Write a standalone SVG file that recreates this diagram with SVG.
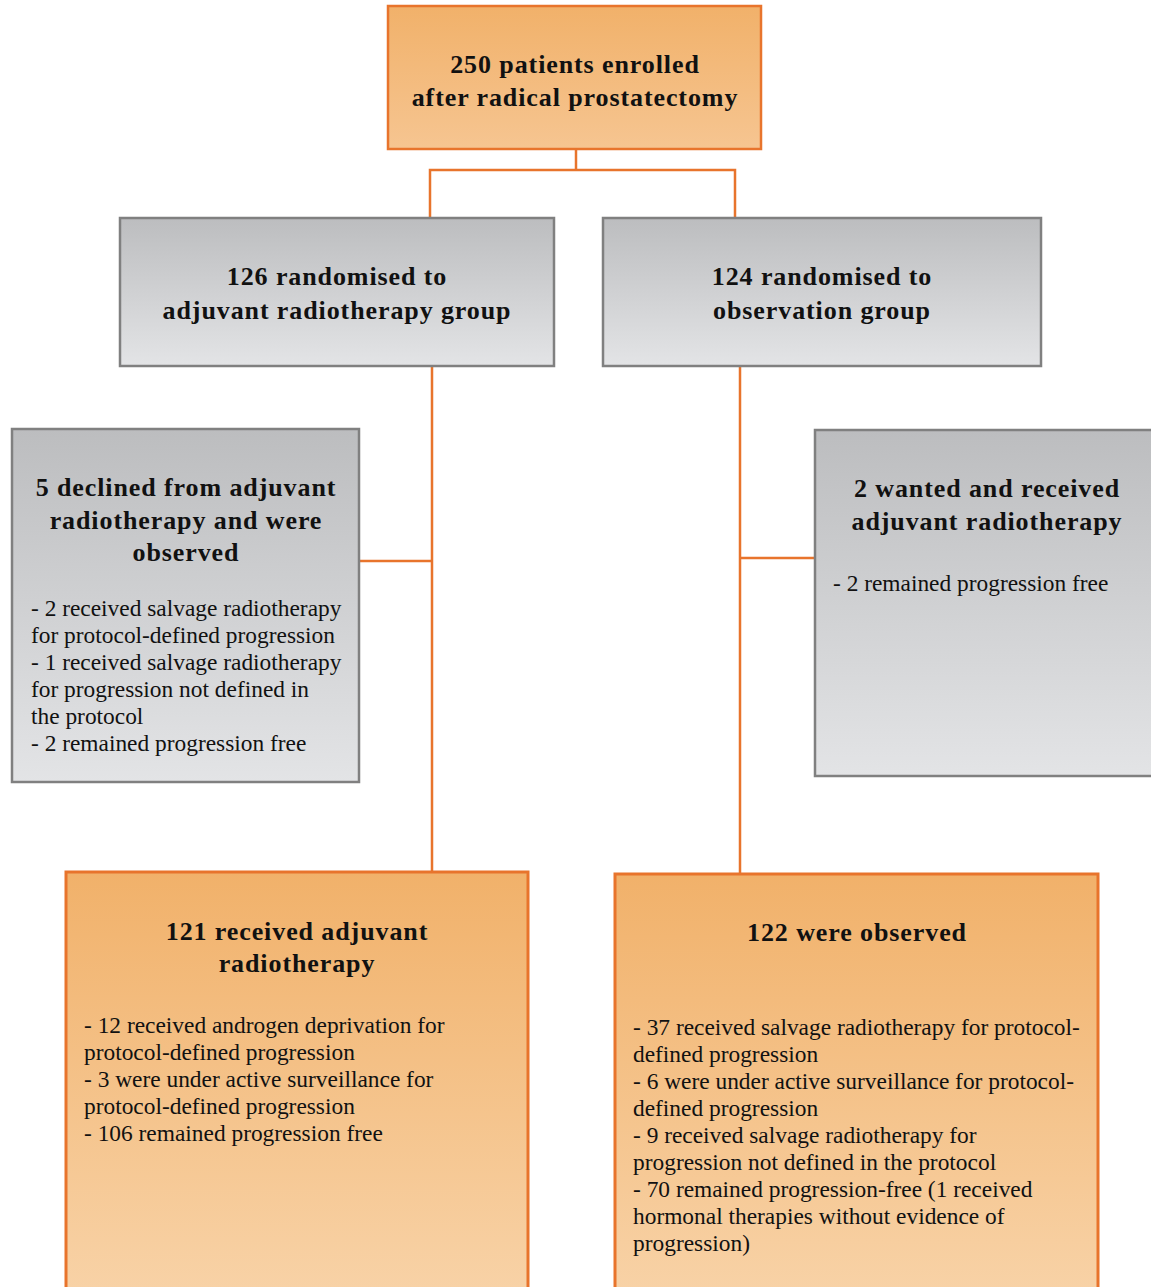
<svg xmlns="http://www.w3.org/2000/svg" width="1151" height="1287" viewBox="0 0 1151 1287">
<defs>
<linearGradient id="gOr" x1="0" y1="0" x2="0" y2="1"><stop offset="0" stop-color="#f1b16a"/><stop offset="1" stop-color="#f6c591"/></linearGradient>
<linearGradient id="gOr2" x1="0" y1="0" x2="0" y2="1"><stop offset="0" stop-color="#f1b16a"/><stop offset="1" stop-color="#f8d3a8"/></linearGradient>
<linearGradient id="gGr" x1="0" y1="0" x2="0" y2="1"><stop offset="0" stop-color="#bcbdbf"/><stop offset="1" stop-color="#e3e4e6"/></linearGradient>
<style>
.or{fill:url(#gOr);stroke:#e8742c;stroke-width:2.5}
.or2{fill:url(#gOr2);stroke:#e8742c;stroke-width:3}
.gr{fill:url(#gGr);stroke:#808080;stroke-width:2.5}
.t{font-family:"Liberation Serif","Times New Roman",serif;font-weight:bold;font-size:26px;fill:#111;text-anchor:middle;letter-spacing:0.9px}
.b{font-family:"Liberation Serif","Times New Roman",serif;font-size:23.4px;fill:#111}
.c{fill:none;stroke:#e8742c;stroke-width:2.5}
</style>
</defs>
<rect width="1151" height="1287" fill="#fff"/>
<g id="connectors">
<polyline class="c" points="576,149 576,170"/>
<polyline class="c" points="430,218 430,170 735,170 735,218"/>
<line class="c" x1="432" y1="366" x2="432" y2="872"/>
<line class="c" x1="360" y1="561" x2="432" y2="561"/>
<line class="c" x1="740" y1="366" x2="740" y2="874"/>
<line class="c" x1="740" y1="558" x2="817" y2="558"/>
</g>
<g id="n-enrolled">
<rect class="or" x="388" y="6" width="373" height="143"/>
<text class="t" x="575" y="73">250 patients enrolled</text>
<text class="t" x="575" y="106">after radical prostatectomy</text>
</g>
<g id="n-adjuvant">
<rect class="gr" x="120" y="218" width="434" height="148"/>
<text class="t" x="337" y="285">126 randomised to</text>
<text class="t" x="337" y="319">adjuvant radiotherapy group</text>
</g>
<g id="n-observation">
<rect class="gr" x="603" y="218" width="438" height="148"/>
<text class="t" x="822" y="285">124 randomised to</text>
<text class="t" x="822" y="319">observation group</text>
</g>
<g id="n-declined">
<rect class="gr" x="12" y="429" width="347" height="353"/>
<text class="t" x="186" y="496">5 declined from adjuvant</text>
<text class="t" x="186" y="529">radiotherapy and were</text>
<text class="t" x="186" y="561">observed</text>
<text class="b" x="31" y="616">- 2 received salvage radiotherapy</text>
<text class="b" x="31" y="643">for protocol-defined progression</text>
<text class="b" x="31" y="670">- 1 received salvage radiotherapy</text>
<text class="b" x="31" y="697">for progression not defined in</text>
<text class="b" x="31" y="724">the protocol</text>
<text class="b" x="31" y="751">- 2 remained progression free</text>
</g>
<g id="n-wanted">
<rect class="gr" x="815" y="430" width="345" height="346"/>
<text class="t" x="987" y="497">2 wanted and received</text>
<text class="t" x="987" y="530">adjuvant radiotherapy</text>
<text class="b" x="833" y="591">- 2 remained progression free</text>
</g>
<g id="n-received">
<rect class="or2" x="66" y="872" width="462" height="430"/>
<text class="t" x="297" y="940">121 received adjuvant</text>
<text class="t" x="297" y="972">radiotherapy</text>
<text class="b" x="84" y="1033">- 12 received androgen deprivation for</text>
<text class="b" x="84" y="1060">protocol-defined progression</text>
<text class="b" x="84" y="1087">- 3 were under active surveillance for</text>
<text class="b" x="84" y="1114">protocol-defined progression</text>
<text class="b" x="84" y="1141">- 106 remained progression free</text>
</g>
<g id="n-observed">
<rect class="or2" x="615" y="874" width="483" height="430"/>
<text class="t" x="857" y="941">122 were observed</text>
<text class="b" x="633" y="1035">- 37 received salvage radiotherapy for protocol-</text>
<text class="b" x="633" y="1062">defined progression</text>
<text class="b" x="633" y="1089">- 6 were under active surveillance for protocol-</text>
<text class="b" x="633" y="1116">defined progression</text>
<text class="b" x="633" y="1143">- 9 received salvage radiotherapy for</text>
<text class="b" x="633" y="1170">progression not defined in the protocol</text>
<text class="b" x="633" y="1197">- 70 remained progression-free (1 received</text>
<text class="b" x="633" y="1224">hormonal therapies without evidence of</text>
<text class="b" x="633" y="1251">progression)</text>
</g>
</svg>
